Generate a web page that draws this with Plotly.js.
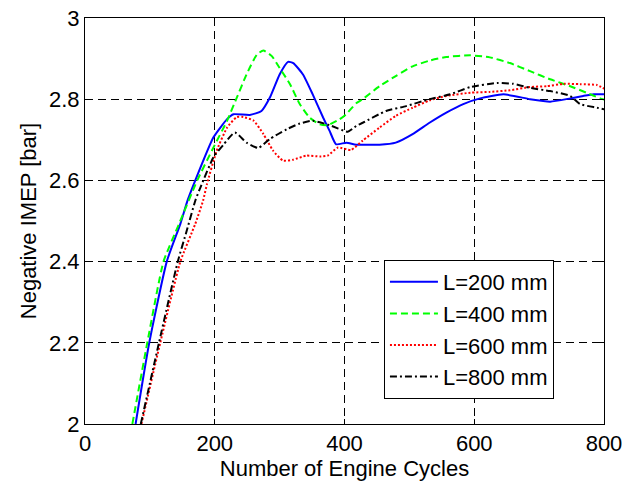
<!DOCTYPE html>
<html>
<head>
<meta charset="utf-8">
<script src="https://cdn.plot.ly/plotly-3.0.1.min.js"></script>
<style>html,body{margin:0;padding:0;background:#fff;}#chart{width:631px;height:483px;}</style>
</head>
<body>
<div id="chart"></div>
<script>
// L=200 mm
const x200 = [78, 99, 126, 147, 158, 170, 198, 219, 229, 254, 272, 285, 300, 313, 321, 336, 351, 367, 377, 387, 403, 418, 454, 479, 505, 531, 557, 583, 609, 645, 686, 717, 748, 768, 784, 803];
const y200 = [2.0, 2.2, 2.4, 2.493, 2.55, 2.6, 2.706, 2.751, 2.763, 2.761, 2.771, 2.804, 2.861, 2.892, 2.889, 2.861, 2.812, 2.755, 2.722, 2.689, 2.693, 2.688, 2.688, 2.693, 2.714, 2.742, 2.767, 2.788, 2.802, 2.812, 2.800, 2.794, 2.802, 2.808, 2.812, 2.812];
// L=400 mm
const x400 = [73, 96, 121, 145, 173, 198, 219, 234, 249, 265, 275, 288, 300, 316, 331, 346, 362, 374, 392, 402, 418, 428, 454, 479, 505, 531, 557, 594, 624, 655, 686, 717, 748, 773, 794, 803];
const y400 = [2.0, 2.2, 2.4, 2.493, 2.6, 2.681, 2.747, 2.804, 2.861, 2.910, 2.920, 2.906, 2.877, 2.837, 2.788, 2.755, 2.738, 2.736, 2.750, 2.762, 2.790, 2.800, 2.832, 2.857, 2.881, 2.895, 2.904, 2.908, 2.903, 2.889, 2.869, 2.849, 2.832, 2.816, 2.802, 2.798];
// L=600 mm
const x600 = [87, 116, 147, 170, 182, 188, 203, 219, 234, 244, 260, 275, 290, 305, 321, 341, 362, 374, 390, 410, 428, 454, 479, 505, 531, 557, 594, 624, 655, 686, 712, 738, 763, 789, 803];
const y600 = [2.0, 2.2, 2.4, 2.493, 2.55, 2.591, 2.673, 2.730, 2.756, 2.756, 2.747, 2.714, 2.673, 2.649, 2.651, 2.661, 2.659, 2.661, 2.681, 2.675, 2.698, 2.730, 2.759, 2.779, 2.797, 2.808, 2.816, 2.818, 2.822, 2.830, 2.832, 2.838, 2.837, 2.835, 2.824];
// L=800 mm
const x800 = [86, 114, 143, 157, 170, 178, 198, 214, 231, 249, 267, 285, 311, 331, 351, 377, 405, 418, 428, 464, 495, 531, 563, 594, 635, 660, 686, 717, 748, 763, 789, 803];
const y800 = [2.0, 2.2, 2.4, 2.477, 2.55, 2.583, 2.657, 2.689, 2.718, 2.693, 2.680, 2.702, 2.726, 2.740, 2.747, 2.736, 2.720, 2.734, 2.742, 2.771, 2.783, 2.800, 2.812, 2.830, 2.840, 2.838, 2.828, 2.820, 2.808, 2.788, 2.779, 2.774];

const names = ['L=200 mm', 'L=400 mm', 'L=600 mm', 'L=800 mm'];
const xTicks = [0, 200, 400, 600, 800];
const yTicks = [2, 2.2, 2.4, 2.6, 2.8, 3];
const yTickText = ['2', '2.2', '2.4', '2.6', '2.8', '3'];

const font = 'Arial, "Liberation Sans", Helvetica, sans-serif';

const traces = [
  {x: x200, y: y200, name: names[0], mode: 'lines', line: {color: '#0000ff', width: 2, dash: 'solid', shape: 'spline', smoothing: 0.5}},
  {x: x400, y: y400, name: names[1], mode: 'lines', line: {color: '#00ff00', width: 2, dash: '7px,4px', shape: 'spline', smoothing: 0.5}},
  {x: x600, y: y600, name: names[2], mode: 'lines', line: {color: '#ff0000', width: 2, dash: '2px,2px', shape: 'spline', smoothing: 0.5}},
  {x: x800, y: y800, name: names[3], mode: 'lines', line: {color: '#000000', width: 2, dash: '7px,3px,2px,3px', shape: 'spline', smoothing: 0.5}}
];

const axisCommon = {
  showline: true, linecolor: '#000', linewidth: 1, mirror: 'allticks',
  ticks: 'inside', ticklen: 5, tickcolor: '#000', tickwidth: 1,
  showgrid: true, gridcolor: '#000', gridwidth: 1, griddash: '8px,5px',
  zeroline: false,
  tickfont: {family: font, size: 22, color: '#000'}
};

const layout = {
  width: 631, height: 483,
  margin: {l: 85, r: 27, t: 18, b: 59},
  paper_bgcolor: '#fff', plot_bgcolor: '#fff',
  showlegend: true,
  xaxis: Object.assign({}, axisCommon, {
    range: [0, 800], tickvals: xTicks, ticktext: xTicks.map(String),
    title: {text: 'Number of Engine Cycles', font: {family: font, size: 22, color: '#000'}, standoff: 3}
  }),
  yaxis: Object.assign({}, axisCommon, {
    range: [2, 3], tickvals: yTicks, ticktext: yTickText,
    title: {text: 'Negative IMEP [bar]', font: {family: font, size: 22, color: '#000'}, standoff: 6}
  }),
  legend: {
    x: 0.576, y: 0.404, xanchor: 'left', yanchor: 'top',
    bgcolor: '#fff', bordercolor: '#000', borderwidth: 1,
    font: {family: font, size: 22, color: '#000'},
    itemwidth: 48, tracegroupgap: 0
  }
};

Plotly.newPlot('chart', traces, layout, {staticPlot: true, displayModeBar: false});
</script>
</body>
</html>
